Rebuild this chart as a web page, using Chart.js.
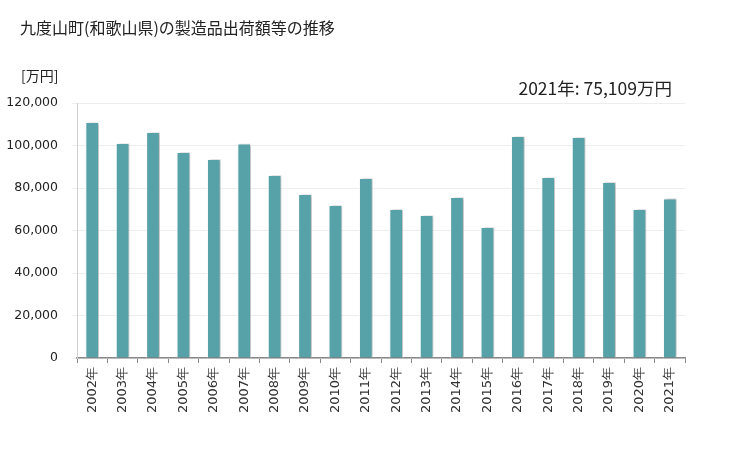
<!DOCTYPE html>
<html>
<head>
<meta charset="utf-8">
<script src="https://cdn.jsdelivr.net/npm/chart.js@4/dist/chart.umd.min.js"></script>
<style>
  body { margin: 0; background: #fff; font-family: "Noto Sans CJK JP", sans-serif; }
  #wrap { position: relative; width: 729px; height: 450px; }
  .txt { position: absolute; color: #222; white-space: nowrap; }
  #title { left: 20px; top: 15px; font-size: 16px; }
  #unit { left: 21px; top: 65px; font-size: 14px; }
  #latest { right: 57px; top: 75px; font-size: 17.5px; }
</style>
</head>
<body>
<div id="wrap">
  <canvas id="chart" width="729" height="450"></canvas>
  <div class="txt" id="title">九度山町(和歌山県)の製造品出荷額等の推移</div>
  <div class="txt" id="unit">[万円]</div>
  <div class="txt" id="latest">2021年: 75,109万円</div>
</div>
<script>
// categories and values (万円)
const years = ["2002年", "2003年", "2004年", "2005年", "2006年", "2007年", "2008年", "2009年", "2010年", "2011年",
               "2012年", "2013年", "2014年", "2015年", "2016年", "2017年", "2018年", "2019年", "2020年", "2021年"];
const values = [111100, 101200, 106400, 96900, 93600, 100900, 86100, 77200, 72000, 84700,
                70100, 67300, 75800, 61600, 104500, 85200, 104000, 82800, 70100, 75109];
const yTicks = [0, 20000, 40000, 60000, 80000, 100000, 120000];

// soft shadow behind the bars
const barShadow = {
    id: "barShadow",
    beforeDatasetsDraw(chart) {
        const ctx = chart.ctx;
        ctx.save();
        ctx.shadowColor = "rgba(0,0,0,0.3)";
        ctx.shadowBlur = 3;
        ctx.shadowOffsetX = 2;
        ctx.shadowOffsetY = 0;
    },
    afterDatasetsDraw(chart) {
        chart.ctx.restore();
    }
};

new Chart(document.getElementById("chart"), {
    type: "bar",
    data: {
        labels: years,
        datasets: [{
            data: values,
            backgroundColor: "#57a1a8",
            borderColor: "#ffffff",
            borderWidth: { left: 1, right: 1, top: 1, bottom: 0 },
            categoryPercentage: 1,
            barPercentage: 0.45
        }]
    },
    options: {
        responsive: false,
        animation: false,
        layout: { padding: { top: 103, right: 44, bottom: 0, left: 0 } },
        plugins: { legend: { display: false }, tooltip: { enabled: false } },
        scales: {
            x: {
                offset: true,
                grid: { offset: true, drawOnChartArea: false, color: "#888", tickLength: 5 },
                border: { color: "#888", width: 1.5 },
                ticks: {
                    minRotation: 90, maxRotation: 90, autoSkip: false,
                    color: "#333", font: { family: "DejaVu Sans", size: 13 }, padding: 4
                },
                afterFit(scale) { scale.height = 92; }
            },
            y: {
                min: 0, max: 120000,
                afterBuildTicks(scale) { scale.ticks = yTicks.map(v => ({ value: v })); },
                grid: { color: "#eeeeee", tickLength: 5 },
                border: { color: "#d0d0d0" },
                ticks: {
                    color: "#222", font: { family: "DejaVu Sans", size: 12.5 }, padding: 14,
                    callback: v => v.toLocaleString("en-US")
                },
                afterFit(scale) { scale.width = 77; }
            }
        }
    },
    plugins: [barShadow]
});
</script>
</body>
</html>
